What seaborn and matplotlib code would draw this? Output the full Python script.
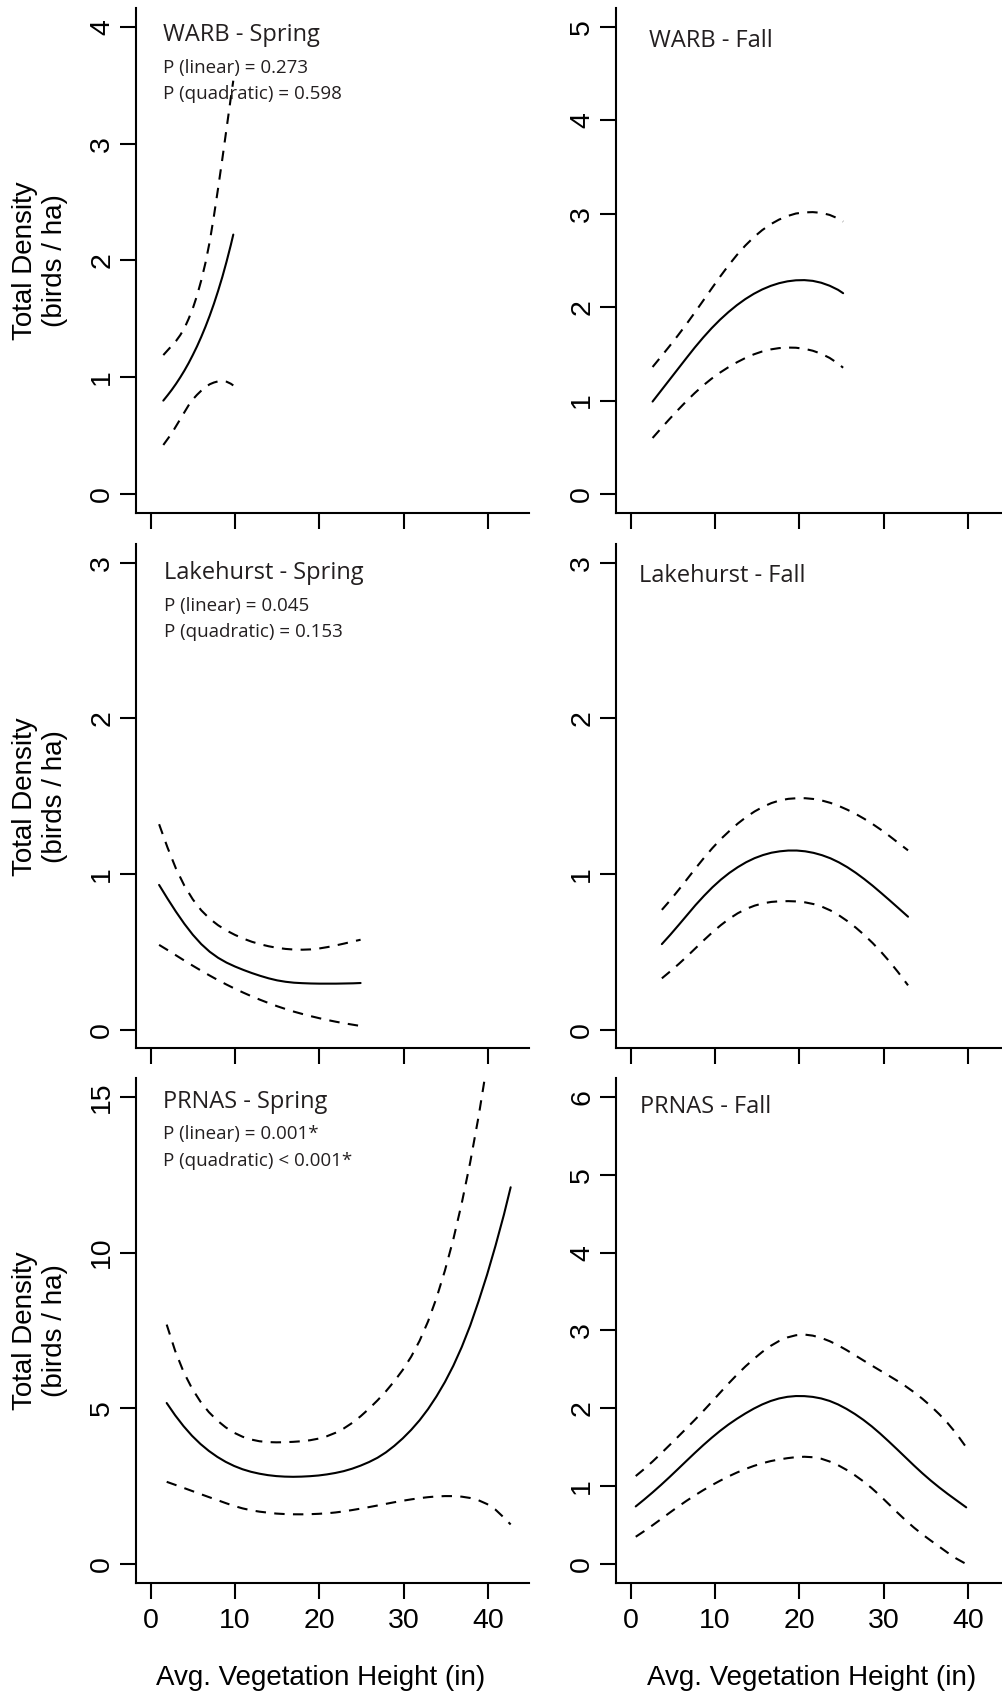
import matplotlib
matplotlib.use("Agg")
import matplotlib.pyplot as plt
import pandas as pd
import seaborn as sns

# ---------------- data: fitted density with lower / upper confidence bands ----------------
warb_spring_x = [1.5, 2.0, 2.5, 3.0, 3.5, 4.0, 4.5, 5.0, 5.5, 6.0, 6.5, 7.0, 7.5, 8.0, 8.5, 9.0, 9.5, 9.8]
warb_spring_fit = [0.80, 0.845, 0.892, 0.943, 0.998, 1.057, 1.121, 1.191, 1.265, 1.346, 1.433, 1.527,
                   1.629, 1.740, 1.859, 1.990, 2.131, 2.222]
warb_spring_lo = [0.42, 0.47, 0.52, 0.58, 0.64, 0.70, 0.76, 0.81, 0.85, 0.885, 0.915, 0.94,
                  0.955, 0.965, 0.968, 0.962, 0.945, 0.93]
warb_spring_hi = [1.19, 1.23, 1.27, 1.31, 1.36, 1.42, 1.50, 1.59, 1.70, 1.83, 1.98, 2.16,
                  2.38, 2.62, 2.87, 3.13, 3.39, 3.54]

warb_fall_x = [2.6, 3.6, 4.6, 5.6, 6.6, 7.6, 8.6, 9.6, 10.6, 11.6, 12.6, 13.6, 14.6, 15.6, 16.6,
               17.6, 18.6, 19.6, 20.6, 21.6, 22.6, 23.6, 24.6, 25.2]
warb_fall_fit = [0.99, 1.106, 1.222, 1.338, 1.454, 1.568, 1.675, 1.775, 1.866, 1.948, 2.022, 2.087,
                 2.143, 2.19, 2.228, 2.257, 2.277, 2.288, 2.29, 2.282, 2.262, 2.23, 2.186, 2.15]
warb_fall_lo = [0.60, 0.702, 0.802, 0.899, 0.993, 1.081, 1.162, 1.235, 1.30, 1.358, 1.41, 1.456,
                1.495, 1.526, 1.548, 1.562, 1.568, 1.566, 1.555, 1.534, 1.502, 1.457, 1.397, 1.352]
warb_fall_hi = [1.36, 1.47, 1.582, 1.697, 1.817, 1.942, 2.07, 2.199, 2.326, 2.447, 2.559, 2.66,
                2.749, 2.825, 2.888, 2.938, 2.976, 3.003, 3.015, 3.018, 3.01, 2.988, 2.95, 2.917]

lake_spring_x = [1.0, 2.0, 3.0, 4.0, 5.0, 6.0, 7.0, 8.0, 9.0, 10.0, 11.0, 12.0, 13.0, 14.0, 15.0,
                 16.0, 17.0, 18.0, 19.0, 20.0, 21.0, 22.0, 23.0, 24.0, 24.9]
lake_spring_fit = [0.93, 0.842, 0.758, 0.68, 0.61, 0.55, 0.501, 0.462, 0.431, 0.406, 0.384, 0.364,
                   0.346, 0.33, 0.317, 0.308, 0.302, 0.299, 0.297, 0.296, 0.296, 0.296, 0.297,
                   0.298, 0.30]
lake_spring_lo = [0.545, 0.512, 0.478, 0.444, 0.411, 0.379, 0.348, 0.318, 0.29, 0.263, 0.238, 0.214,
                  0.192, 0.171, 0.151, 0.133, 0.116, 0.101, 0.087, 0.074, 0.062, 0.051, 0.041,
                  0.032, 0.024]
lake_spring_hi = [1.32, 1.17, 1.035, 0.925, 0.837, 0.767, 0.713, 0.671, 0.637, 0.609, 0.585, 0.565,
                  0.549, 0.536, 0.526, 0.519, 0.515, 0.514, 0.516, 0.522, 0.531, 0.542, 0.554,
                  0.567, 0.578]

lake_fall_x = [3.7, 4.7, 5.7, 6.7, 7.7, 8.7, 9.7, 10.7, 11.7, 12.7, 13.7, 14.7, 15.7, 16.7, 17.7,
               18.7, 19.7, 20.7, 21.7, 22.7, 23.7, 24.7, 25.7, 26.7, 27.7, 28.7, 29.7, 30.7, 31.7, 32.9]
lake_fall_fit = [0.55, 0.61, 0.673, 0.737, 0.801, 0.86, 0.915, 0.964, 1.007, 1.044, 1.076, 1.102,
                 1.122, 1.137, 1.146, 1.151, 1.151, 1.146, 1.136, 1.121, 1.101, 1.075, 1.044, 1.008,
                 0.968, 0.925, 0.879, 0.832, 0.784, 0.726]
lake_fall_lo = [0.33, 0.375, 0.422, 0.472, 0.524, 0.576, 0.626, 0.672, 0.713, 0.748, 0.776, 0.797,
                0.812, 0.821, 0.825, 0.826, 0.824, 0.818, 0.807, 0.79, 0.766, 0.735, 0.698, 0.656,
                0.609, 0.557, 0.50, 0.438, 0.371, 0.285]
lake_fall_hi = [0.77, 0.832, 0.899, 0.968, 1.037, 1.104, 1.167, 1.225, 1.276, 1.324, 1.366, 1.402,
                1.432, 1.456, 1.473, 1.483, 1.487, 1.487, 1.482, 1.472, 1.457, 1.437, 1.413, 1.386,
                1.355, 1.321, 1.284, 1.244, 1.202, 1.152]

prnas_spring_x = [1.9, 2.9, 3.9, 4.9, 5.9, 6.9, 7.9, 8.9, 9.9, 10.9, 11.9, 12.9, 13.9, 14.9,
                  15.9, 16.9, 17.9, 18.9, 19.9, 20.9, 21.9, 22.9, 23.9, 24.9, 25.9, 26.9, 27.9,
                  28.9, 29.9, 30.9, 31.9, 32.9, 33.9, 34.9, 35.9, 36.9, 37.9, 38.9, 39.9, 40.9,
                  41.9, 42.7]
prnas_spring_fit = [5.171, 4.778, 4.428, 4.12, 3.857, 3.633, 3.442, 3.281, 3.149, 3.043,
                    2.962, 2.901, 2.855, 2.824, 2.807, 2.801, 2.807, 2.821, 2.843, 2.878,
                    2.924, 2.983, 3.062, 3.16, 3.275, 3.412, 3.585, 3.795, 4.035, 4.308,
                    4.618, 4.975, 5.384, 5.844, 6.368, 6.97, 7.657, 8.444, 9.29, 10.22,
                    11.22, 12.1]
prnas_spring_lo = [2.64, 2.544, 2.446, 2.347, 2.248, 2.15, 2.055, 1.957, 1.865, 1.787,
                   1.727, 1.682, 1.65, 1.62, 1.605, 1.597, 1.596, 1.601, 1.612, 1.629,
                   1.655, 1.69, 1.733, 1.779, 1.828, 1.879, 1.932, 1.984, 2.032, 2.076,
                   2.115, 2.147, 2.17, 2.182, 2.181, 2.163, 2.121, 2.046, 1.926, 1.746,
                   1.49, 1.27]
prnas_spring_hi = [7.69, 6.849, 6.172, 5.641, 5.217, 4.879, 4.609, 4.389, 4.216, 4.088,
                   3.999, 3.943, 3.916, 3.908, 3.912, 3.924, 3.943, 3.975, 4.027, 4.104,
                   4.212, 4.353, 4.531, 4.745, 4.988, 5.254, 5.546, 5.871, 6.234, 6.659,
                   7.171, 7.791, 8.542, 9.422, 10.43, 11.59, 12.90, 14.38, 16.05, 17.94,
                   20.0, 21.9]

prnas_fall_x = [0.6, 1.6, 2.6, 3.6, 4.6, 5.6, 6.6, 7.6, 8.6, 9.6, 10.6, 11.6, 12.6, 13.6, 14.6,
                15.6, 16.6, 17.6, 18.6, 19.6, 20.6, 21.6, 22.6, 23.6, 24.6, 25.6, 26.6, 27.6,
                28.6, 29.6, 30.6, 31.6, 32.6, 33.6, 34.6, 35.6, 36.6, 37.6, 38.6, 39.8]
prnas_fall_fit = [0.74, 0.828, 0.92, 1.016, 1.116, 1.219, 1.323, 1.426, 1.526, 1.621,
                  1.71, 1.792, 1.866, 1.934, 1.996, 2.05, 2.094, 2.127, 2.148, 2.158,
                  2.157, 2.147, 2.127, 2.095, 2.05, 1.993, 1.927, 1.852, 1.768, 1.675,
                  1.576, 1.474, 1.37, 1.266, 1.166, 1.072, 0.984, 0.901, 0.822, 0.728]
prnas_fall_lo = [0.35, 0.422, 0.498, 0.577, 0.657, 0.735, 0.81, 0.881, 0.948, 1.011,
                 1.07, 1.125, 1.175, 1.22, 1.26, 1.294, 1.322, 1.343, 1.36, 1.373,
                 1.378, 1.372, 1.353, 1.317, 1.27, 1.21, 1.14, 1.062, 0.974, 0.876,
                 0.771, 0.665, 0.563, 0.468, 0.381, 0.301, 0.223, 0.145, 0.072, 0.0]
prnas_fall_hi = [1.13, 1.22, 1.317, 1.42, 1.526, 1.633, 1.741, 1.851, 1.964, 2.081,
                 2.2, 2.318, 2.431, 2.537, 2.634, 2.724, 2.802, 2.865, 2.911, 2.939,
                 2.948, 2.934, 2.905, 2.863, 2.81, 2.749, 2.683, 2.616, 2.55, 2.485,
                 2.421, 2.355, 2.285, 2.208, 2.123, 2.029, 1.925, 1.81, 1.68, 1.50]

x_ticks = [0, 10, 20, 30, 40]
y_ticks = {
    "warb_spring": [0, 1, 2, 3, 4],
    "warb_fall": [0, 1, 2, 3, 4, 5],
    "lake_spring": [0, 1, 2, 3],
    "lake_fall": [0, 1, 2, 3],
    "prnas_spring": [0, 5, 10, 15],
    "prnas_fall": [0, 1, 2, 3, 4, 5, 6],
}
titles = {
    "warb_spring": "WARB - Spring",
    "warb_fall": "WARB - Fall",
    "lake_spring": "Lakehurst - Spring",
    "lake_fall": "Lakehurst - Fall",
    "prnas_spring": "PRNAS - Spring",
    "prnas_fall": "PRNAS - Fall",
}
p_linear = {"warb_spring": "P (linear) = 0.273",
            "lake_spring": "P (linear) = 0.045",
            "prnas_spring": "P (linear) = 0.001*"}
p_quadratic = {"warb_spring": "P (quadratic) = 0.598",
               "lake_spring": "P (quadratic) = 0.153",
               "prnas_spring": "P (quadratic) < 0.001*"}

x_label = "Avg. Vegetation Height (in)"
y_label = "Total Density\n(birds / ha)"

# ---------------- styling ----------------
sns.set_theme(style="ticks")
plt.rcParams["font.family"] = ["Liberation Sans", "DejaVu Sans"]
ANNOT_FONT = ["Open Sans", "DejaVu Sans"]
ANNOT_COLOR = "#231f20"

W, H = 1002, 1692
fig = plt.figure(figsize=(W / 100, H / 100), dpi=100)
fig.patch.set_facecolor("white")

PANEL_W, PANEL_H = 392.7, 504.4
COL_LEFT = [136.0, 616.0]
ROW_TOP = [8.3, 544.0, 1078.3]
XLABEL_CENTER = [321.0, 812.0]
XLIM = (-1.74, 44.84)


def fx(px):
    return px / W


def fy(py):
    return 1 - py / H


panels = [
    ("warb_spring", 0, 0, warb_spring_x, warb_spring_fit, warb_spring_lo, warb_spring_hi, 4),
    ("warb_fall", 0, 1, warb_fall_x, warb_fall_fit, warb_fall_lo, warb_fall_hi, 5),
    ("lake_spring", 1, 0, lake_spring_x, lake_spring_fit, lake_spring_lo, lake_spring_hi, 3),
    ("lake_fall", 1, 1, lake_fall_x, lake_fall_fit, lake_fall_lo, lake_fall_hi, 3),
    ("prnas_spring", 2, 0, prnas_spring_x, prnas_spring_fit, prnas_spring_lo, prnas_spring_hi, 15),
    ("prnas_fall", 2, 1, prnas_fall_x, prnas_fall_fit, prnas_fall_lo, prnas_fall_hi, 6),
]

# text placement: (left px, baseline px) for title and the two P-value lines
title_pos = {
    "warb_spring": (162.7, 41.4), "warb_fall": (649.3, 47.2),
    "lake_spring": (164.0, 579.3), "lake_fall": (639.3, 581.7),
    "prnas_spring": (162.7, 1107.6), "prnas_fall": (640.3, 1112.5),
}
p_pos = {
    "warb_spring": (73.0, 99.0),
    "lake_spring": (611.0, 637.0),
    "prnas_spring": (1138.7, 1165.8),
}

for key, r, c, xs, fit, lo, hi, ymax in panels:
    left, top = COL_LEFT[c], ROW_TOP[r]
    ax = fig.add_axes([fx(left), fy(top + PANEL_H), PANEL_W / W, PANEL_H / H])
    ax.set_facecolor("white")

    df = pd.DataFrame({"x": xs, "fit": fit, "lower": lo, "upper": hi})
    long = df.melt(id_vars="x", var_name="band", value_name="density")
    sns.lineplot(data=long, x="x", y="density", style="band",
                 style_order=["fit", "lower", "upper"],
                 dashes={"fit": "", "lower": (5, 4), "upper": (5, 4)},
                 color="black", linewidth=1.5, estimator=None, sort=False,
                 legend=False, ax=ax)

    ax.set_xlim(*XLIM)
    ax.set_ylim(-0.04 * ymax, 1.04 * ymax)
    ax.set_xticks(x_ticks)
    ax.set_yticks(y_ticks[key])
    ax.set_xlabel("")
    ax.set_ylabel("")
    ax.grid(False)

    for side in ("top", "right"):
        ax.spines[side].set_visible(False)
    for side in ("left", "bottom"):
        ax.spines[side].set_linewidth(1.5)
        ax.spines[side].set_color("black")

    ax.tick_params(axis="both", direction="out", length=11.5, width=1.5,
                   color="black", labelsize=20.5, labelcolor="black")
    ax.tick_params(axis="x", pad=7.0, labelbottom=(r == 2))
    ax.tick_params(axis="y", pad=3.5)
    for lab in ax.get_yticklabels():
        lab.set_rotation(90)
        lab.set_verticalalignment("center")
        lab.set_horizontalalignment("right")

    # panel title and model P-values
    tx, ty = title_pos[key]
    fig.text(fx(tx), fy(ty), titles[key], ha="left", va="baseline",
             fontsize=17, family=ANNOT_FONT, color=ANNOT_COLOR)
    if key in p_linear:
        y1, y2 = p_pos[key]
        fig.text(fx(tx), fy(y1), p_linear[key], ha="left", va="baseline",
                 fontsize=13.5, family=ANNOT_FONT, color=ANNOT_COLOR)
        fig.text(fx(tx), fy(y2), p_quadratic[key], ha="left", va="baseline",
                 fontsize=13.5, family=ANNOT_FONT, color=ANNOT_COLOR)

    # shared axis titles
    if c == 0:
        fig.text(fx(40), fy(top + PANEL_H / 2), y_label, rotation=90,
                 ha="center", va="center", multialignment="center",
                 fontsize=20, color="black", linespacing=1.15)
    if r == 2:
        fig.text(fx(XLABEL_CENTER[c]), fy(1685), x_label, ha="center",
                 va="baseline", fontsize=20, color="black")

fig.savefig("out.png", dpi=100, facecolor="white")
